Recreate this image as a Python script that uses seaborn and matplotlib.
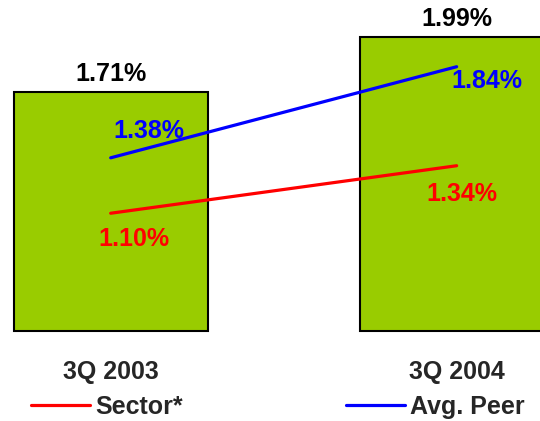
import pandas as pd
import matplotlib.pyplot as plt
import seaborn as sns

# データ
periods = ["3Q 2003", "3Q 2004"]
bar_values = [1.71, 1.99]
sector_values = [1.10, 1.34]
peer_values = [1.38, 1.84]
series_names = ["Sector*", "Avg. Peer"]

sns.set_style("white")
plt.rcParams['font.family'] = ['Liberation Sans', 'DejaVu Sans']
plt.rcParams['font.weight'] = 'bold'

fig = plt.figure(figsize=(5.4, 4.21), dpi=100)
ax = fig.add_axes([0, 1 - 340 / 421, 1, 340 / 421])

# 棒グラフ
sns.barplot(x=periods, y=bar_values, color="#99CC00", saturation=1,
            edgecolor="black", linewidth=1.5, width=0.56, ax=ax)
base = 0.505
for p in ax.patches:
    h = p.get_height()
    p.set_y(base)
    p.set_height(h - base)

for i, v in enumerate(bar_values):
    ax.annotate(f"{v:.2f}%", (i, v), xytext=(0, 6), textcoords="offset pixels",
                ha="center", va="bottom", fontsize=18, fontweight="bold", color="black")

# 折れ線
df = pd.DataFrame({
    "pos": list(range(len(periods))) * 2,
    "value": sector_values + peer_values,
    "series": [series_names[0]] * len(periods) + [series_names[1]] * len(periods),
})
palette = {"Sector*": "#FF0000", "Avg. Peer": "#0000FF"}
sns.lineplot(data=df, x="pos", y="value", hue="series", palette=palette,
             linewidth=2.3, ax=ax, legend=True)

# ラベル位置 (pixel offset)
offsets = {
    "Sector*": [(23, -26), (5, -28)],
    "Avg. Peer": [(38, 27), (30, -14)],
}
for name, vals in zip(series_names, [sector_values, peer_values]):
    for i, v in enumerate(vals):
        ax.annotate(f"{v:.2f}%", (i, v), xytext=offsets[name][i], textcoords="offset pixels",
                    ha="center", va="center", fontsize=18, fontweight="bold",
                    color=palette[name])

handles, labels = ax.get_legend_handles_labels()
ax.get_legend().remove()
fig.legend(handles, labels, loc="center left", bbox_to_anchor=(31 / 540, 1 - 407 / 421),
           ncol=2, frameon=False, fontsize=18, handlelength=2.36, handletextpad=0.2,
           columnspacing=6.55, borderpad=0, borderaxespad=0)

ax.set_xlim(-0.32, 1.241)
ax.set_ylim(2.177 - 340 / 198, 2.177)
ax.set_xticks(range(len(periods)))
ax.set_xticklabels(periods, fontsize=18, fontweight="bold")
ax.tick_params(axis="x", length=0, pad=14.4)
ax.set_yticks([])
ax.set_xlabel("")
ax.set_ylabel("")
sns.despine(ax=ax, left=True, bottom=True)

plt.savefig("out.png", dpi=100)
plt.close()
